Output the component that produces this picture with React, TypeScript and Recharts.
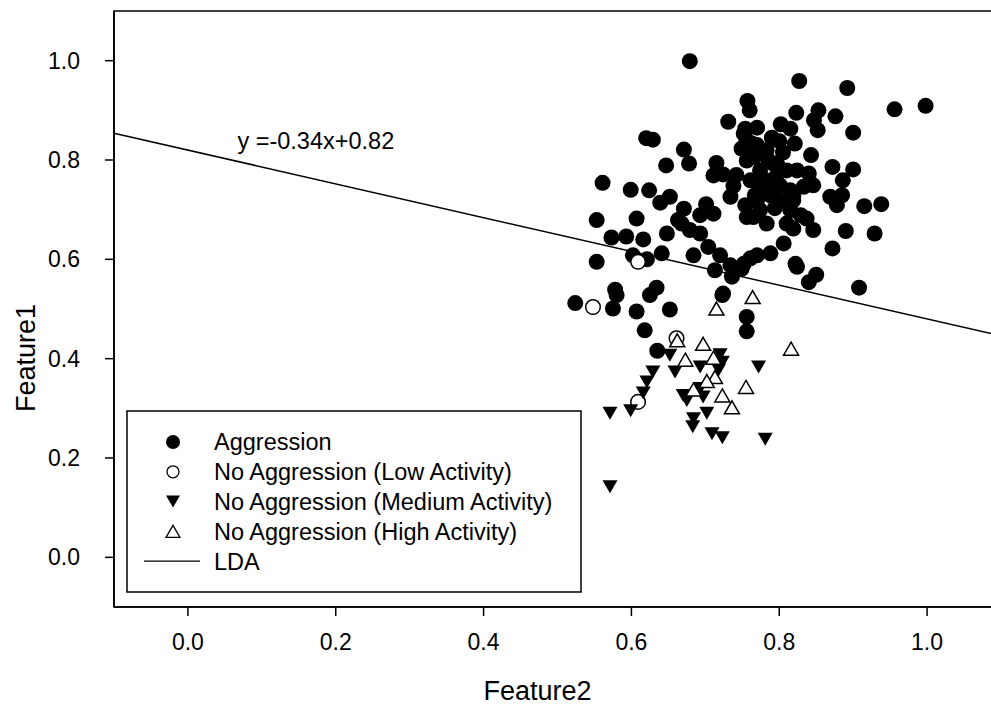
import {
  ReferenceArea,
  ReferenceDot,
  ReferenceLine,
  Scatter,
  ScatterChart,
  Legend,
  XAxis,
  YAxis
} from "recharts";

const FONT = '"Liberation Sans", Arial, sans-serif';

// axis setup
const xDomain: [number, number] = [-0.1, 1.1];
const yDomain: [number, number] = [-0.1, 1.1];
const xTicks = [0, 0.2, 0.4, 0.6, 0.8, 1.0];
const yTicks = [0, 0.2, 0.4, 0.6, 0.8, 1.0];

// LDA boundary
const ldaSlope = -0.34;
const ldaIntercept = 0.82;
const ldaLabel = "y =-0.34x+0.82";
const ldaLabelAt = { x: 0.067, y: 0.822 };

const legendLabels = [
  "Aggression",
  "No Aggression (Low Activity)",
  "No Aggression (Medium Activity)",
  "No Aggression (High Activity)",
  "LDA"
];

// [Feature2, Feature1]
const aggression: [number, number][] = [
  [0.679, 0.999], [0.757, 0.919], [0.76, 0.9], [0.731, 0.877], [0.62, 0.844],
  [0.629, 0.841], [0.671, 0.821], [0.678, 0.793], [0.647, 0.789], [0.715, 0.794],
  [0.711, 0.769], [0.724, 0.771], [0.561, 0.754], [0.599, 0.74], [0.624, 0.739],
  [0.652, 0.726], [0.639, 0.714], [0.671, 0.702], [0.701, 0.711], [0.711, 0.692],
  [0.553, 0.679], [0.607, 0.682], [0.663, 0.679],
  [0.827, 0.959], [0.892, 0.945], [0.956, 0.902], [0.998, 0.909], [0.823, 0.895],
  [0.853, 0.9], [0.876, 0.888], [0.847, 0.88], [0.852, 0.86], [0.802, 0.872],
  [0.815, 0.863], [0.77, 0.865], [0.754, 0.863], [0.9, 0.855], [0.8, 0.838],
  [0.821, 0.833], [0.783, 0.82], [0.756, 0.84], [0.843, 0.81], [0.872, 0.786],
  [0.9, 0.781], [0.797, 0.793], [0.824, 0.779], [0.84, 0.773], [0.846, 0.749],
  [0.833, 0.746], [0.886, 0.759], [0.885, 0.729], [0.869, 0.726], [0.878, 0.709],
  [0.915, 0.707], [0.938, 0.711], [0.837, 0.682], [0.752, 0.853], [0.749, 0.823],
  [0.763, 0.833],
  [0.756, 0.799], [0.792, 0.793], [0.774, 0.779], [0.81, 0.779], [0.761, 0.759],
  [0.781, 0.759], [0.801, 0.749], [0.788, 0.729], [0.815, 0.739], [0.767, 0.729],
  [0.754, 0.709], [0.774, 0.699], [0.794, 0.703], [0.815, 0.699], [0.774, 0.749],
  [0.808, 0.719], [0.829, 0.689], [0.693, 0.689],
  [0.77, 0.83], [0.79, 0.845], [0.805, 0.815], [0.785, 0.8], [0.766, 0.806],
  [0.742, 0.77], [0.738, 0.748], [0.795, 0.765], [0.782, 0.74],
  [0.734, 0.726], [0.756, 0.685], [0.77, 0.719], [0.792, 0.732], [0.81, 0.672],
  [0.819, 0.719], [0.668, 0.672], [0.679, 0.659], [0.693, 0.652], [0.684, 0.608],
  [0.704, 0.625], [0.72, 0.608], [0.77, 0.608], [0.788, 0.612], [0.806, 0.632],
  [0.713, 0.578], [0.734, 0.588], [0.736, 0.565], [0.752, 0.591], [0.761, 0.602],
  [0.724, 0.531], [0.822, 0.591],
  [0.819, 0.726], [0.846, 0.659], [0.819, 0.662], [0.89, 0.657], [0.929, 0.652],
  [0.872, 0.622], [0.824, 0.585], [0.85, 0.569], [0.84, 0.554], [0.908, 0.543],
  [0.756, 0.484], [0.756, 0.455], [0.765, 0.685], [0.783, 0.672], [0.749, 0.581],
  [0.573, 0.644], [0.593, 0.646], [0.616, 0.64], [0.648, 0.652], [0.553, 0.595],
  [0.602, 0.608], [0.621, 0.6], [0.641, 0.612], [0.578, 0.539], [0.58, 0.528],
  [0.634, 0.543], [0.625, 0.528], [0.524, 0.512], [0.575, 0.501], [0.607, 0.495],
  [0.652, 0.499], [0.723, 0.528], [0.618, 0.457], [0.635, 0.416]
];

const lowActivity: [number, number][] = [
  [0.548, 0.504], [0.609, 0.595], [0.661, 0.441], [0.609, 0.313]
];

const mediumActivity: [number, number][] = [
  [0.652, 0.407], [0.72, 0.408], [0.723, 0.393], [0.629, 0.373], [0.659, 0.373],
  [0.693, 0.383], [0.718, 0.377], [0.772, 0.383], [0.621, 0.353], [0.616, 0.331],
  [0.67, 0.326], [0.697, 0.323], [0.675, 0.316], [0.693, 0.34], [0.571, 0.29],
  [0.599, 0.295], [0.702, 0.29], [0.684, 0.279], [0.683, 0.263], [0.709, 0.249],
  [0.723, 0.241], [0.781, 0.238], [0.571, 0.142]
];

const highActivity: [number, number][] = [
  [0.662, 0.437], [0.697, 0.43], [0.816, 0.42], [0.673, 0.398], [0.711, 0.402],
  [0.713, 0.363], [0.702, 0.355], [0.684, 0.338], [0.755, 0.343], [0.723, 0.326],
  [0.736, 0.302], [0.715, 0.501], [0.764, 0.524]
];

const toPoints = (rows: [number, number][]) => rows.map(([x, y]) => ({ x, y }));

const FilledCircle = ({ cx, cy }: any) => <circle cx={cx} cy={cy} r={8} fill="#000" />;
const OpenCircle = ({ cx, cy }: any) => (
  <circle cx={cx} cy={cy} r={7.3} fill="#fff" stroke="#000" strokeWidth={1.5} />
);
const DownTriangle = ({ cx, cy }: any) => (
  <polygon points={`${cx - 7.5},${cy - 6.5} ${cx + 7.5},${cy - 6.5} ${cx},${cy + 6.5}`} fill="#000" />
);
const UpTriangle = ({ cx, cy }: any) => (
  <polygon
    points={`${cx},${cy - 6.5} ${cx + 7.5},${cy + 6.5} ${cx - 7.5},${cy + 6.5}`}
    fill="#fff"
    stroke="#000"
    strokeWidth={1.5}
  />
);

const LegendBox = () => {
  const rowY = (i: number) => 32 + i * 29.8;
  return (
    <svg width={456} height={183} style={{ display: "block" }}>
      <rect x={1} y={1} width={454} height={181} fill="#fff" stroke="#000" strokeWidth={1.5} />
      <circle cx={47} cy={rowY(0)} r={7} fill="#000" />
      <circle cx={47} cy={rowY(1)} r={6} fill="#fff" stroke="#000" strokeWidth={1.3} />
      <polygon points={`40,${rowY(2) - 6} 54,${rowY(2) - 6} 47,${rowY(2) + 6}`} fill="#000" />
      <polygon
        points={`47,${rowY(3) - 6} 54,${rowY(3) + 6} 40,${rowY(3) + 6}`}
        fill="#fff"
        stroke="#000"
        strokeWidth={1.3}
      />
      <line x1={18} x2={74} y1={rowY(4)} y2={rowY(4)} stroke="#000" strokeWidth={1.3} />
      {legendLabels.map((label, i) => (
        <text key={label} x={88} y={rowY(i) + 8.3} fontSize={23.5} fontFamily={FONT} fill="#000">
          {label}
        </text>
      ))}
    </svg>
  );
};

const XTitle = ({ viewBox }: any) => (
  <text
    x={viewBox.x + viewBox.width / 2 - 20}
    y={viewBox.y + viewBox.height - 8}
    textAnchor="middle"
    fontSize={27}
    fontFamily={FONT}
    fill="#000"
  >
    Feature2
  </text>
);

const YTitle = ({ viewBox }: any) => {
  const x = viewBox.x + 26;
  const y = viewBox.y + viewBox.height / 2 + 49;
  return (
    <text
      x={x}
      y={y}
      transform={`rotate(-90 ${x} ${y})`}
      textAnchor="middle"
      dominantBaseline="central"
      fontSize={27}
      fontFamily={FONT}
      fill="#000"
    >
      Feature1
    </text>
  );
};

const LdaText = ({ cx, cy }: any) => (
  <text x={cx} y={cy} fontSize={23.5} fontFamily={FONT} fill="#000">
    {ldaLabel}
  </text>
);

export default function App() {
  const tickStyle = { fill: "#000", fontSize: 23, fontFamily: FONT };
  return (
    <div
      style={{
        position: "fixed",
        top: 0,
        left: 0,
        width: 991,
        height: 708,
        overflow: "hidden",
        background: "#fff"
      }}
    >
      <ScatterChart width={1001} height={708} margin={{ top: 11, right: 0, bottom: 0, left: 0 }}>
        <XAxis
          type="number"
          dataKey="x"
          domain={xDomain}
          ticks={xTicks}
          allowDataOverflow
          tickFormatter={(v: number) => v.toFixed(1)}
          tick={tickStyle}
          tickSize={9}
          tickMargin={18}
          height={101}
          stroke="#000"
          strokeWidth={1.5}
          label={<XTitle />}
        />
        <YAxis
          type="number"
          dataKey="y"
          domain={yDomain}
          ticks={yTicks}
          allowDataOverflow
          tickFormatter={(v: number) => v.toFixed(1)}
          tick={tickStyle}
          tickSize={9}
          tickMargin={25}
          width={114}
          stroke="#000"
          strokeWidth={1.5}
          label={<YTitle />}
        />
        <ReferenceArea
          x1={xDomain[0]}
          x2={xDomain[1]}
          y1={yDomain[0]}
          y2={yDomain[1]}
          fill="none"
          stroke="#000"
          strokeWidth={1.7}
          fillOpacity={0}
          ifOverflow="visible"
        />
        <ReferenceLine
          segment={[
            { x: xDomain[0], y: ldaSlope * xDomain[0] + ldaIntercept },
            { x: xDomain[1], y: ldaSlope * xDomain[1] + ldaIntercept }
          ]}
          stroke="#000"
          strokeWidth={1.5}
          ifOverflow="visible"
        />
        <ReferenceDot x={ldaLabelAt.x} y={ldaLabelAt.y} r={0} shape={<LdaText />} />
        <Scatter
          name={legendLabels[0]}
          data={toPoints(aggression)}
          shape={<FilledCircle />}
          isAnimationActive={false}
        />
        <Scatter
          name={legendLabels[1]}
          data={toPoints(lowActivity)}
          shape={<OpenCircle />}
          isAnimationActive={false}
        />
        <Scatter
          name={legendLabels[2]}
          data={toPoints(mediumActivity)}
          shape={<DownTriangle />}
          isAnimationActive={false}
        />
        <Scatter
          name={legendLabels[3]}
          data={toPoints(highActivity)}
          shape={<UpTriangle />}
          isAnimationActive={false}
        />
        <Legend
          layout="horizontal"
          verticalAlign="middle"
          align="center"
          content={() => <LegendBox />}
          wrapperStyle={{ left: 126, top: 410, width: 456, height: 183 }}
        />
      </ScatterChart>
    </div>
  );
}
